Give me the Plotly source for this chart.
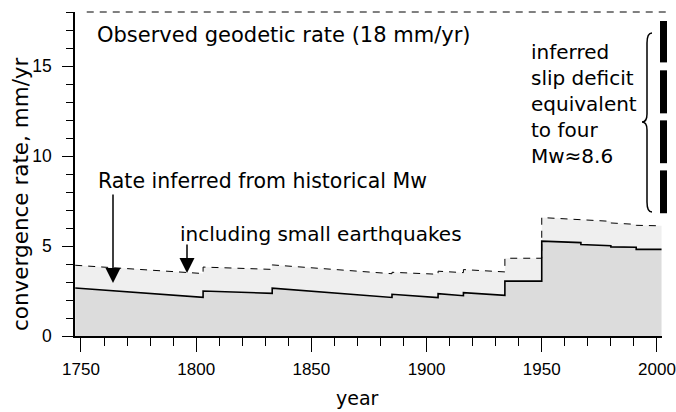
import plotly.graph_objects as go

# ---- data ----
years_mw = [1747.5, 1803, 1803, 1833, 1833, 1885, 1885, 1905, 1905, 1916, 1916,
            1934, 1934, 1950, 1950, 1967, 1967, 1980, 1980, 1991, 1991, 2002]
rate_mw = [2.67, 2.15, 2.50, 2.37, 2.66, 2.14, 2.32, 2.13, 2.35, 2.24, 2.41,
           2.26, 3.05, 3.05, 5.27, 5.19, 5.08, 5.01, 4.95, 4.93, 4.81, 4.81]

years_all = [1747.5, 1803, 1803, 1833, 1833, 1885, 1885, 1905, 1905, 1916, 1916,
             1934, 1934, 1950, 1950, 1980, 1980, 1991, 1991, 2002]
rate_all = [3.93, 3.47, 3.83, 3.70, 3.95, 3.46, 3.54, 3.43, 3.60, 3.52, 3.69,
            3.56, 4.32, 4.32, 6.58, 6.37, 6.28, 6.20, 6.15, 6.12]

geodetic_rate = 18
deficit_segments = [(6.82, 9.2), (9.6, 11.98), (12.37, 14.76), (15.2, 17.5)]

x_ticks = [1750, 1800, 1850, 1900, 1950, 2000]
y_ticks = [0, 5, 10, 15]

FONT = "DejaVu Sans"
TICKFONT = "Liberation Sans"
W, H = 676, 412
ML, MR, MT, MB = 75, 14, 12, 76
XR = [1747.4, 2002.2]
YR = [0, 18]

fig = go.Figure()
fig.add_trace(go.Scatter(x=years_mw, y=rate_mw, mode="lines",
                         line=dict(color="black", width=1.6),
                         fill="tozeroy", fillcolor="#dcdcdc", showlegend=False,
                         hoverinfo="skip"))
fig.add_trace(go.Scatter(x=years_all, y=rate_all, mode="lines",
                         line=dict(color="black", width=1, dash="7px,6px"),
                         fill="tonexty", fillcolor="#efefef", showlegend=False,
                         hoverinfo="skip"))

shapes = []
# observed geodetic rate dashed line
shapes.append(dict(type="line", xref="paper", yref="y domain", x0=0.02, x1=1.013,
                   y0=geodetic_rate / YR[1], y1=geodetic_rate / YR[1],
                   line=dict(color="black", width=1, dash="7px,6px")))
# slip deficit bars
for lo, hi in deficit_segments:
    shapes.append(dict(type="rect", xref="paper", yref="y domain",
                       x0=0.9966, x1=1.0085, y0=lo / YR[1], y1=hi / YR[1],
                       fillcolor="black", line=dict(width=0)))


def px2x(p):
    return XR[0] + (p - ML) / (W - ML - MR) * (XR[1] - XR[0])


def py2y(p):
    return YR[1] - (p - MT) / (H - MT - MB) * (YR[1] - YR[0])


# curly brace
pts = [(652, 33), (647, 33), (647, 43), (647, 114), (647, 122), (642, 122),
       (647, 122), (647, 130), (647, 202), (647, 212), (652, 212)]
P = [(px2x(a), py2y(b)) for a, b in pts]
path = (f"M{P[0][0]},{P[0][1]} Q{P[1][0]},{P[1][1]} {P[2][0]},{P[2][1]} "
        f"L{P[3][0]},{P[3][1]} Q{P[4][0]},{P[4][1]} {P[5][0]},{P[5][1]} "
        f"Q{P[6][0]},{P[6][1]} {P[7][0]},{P[7][1]} L{P[8][0]},{P[8][1]} "
        f"Q{P[9][0]},{P[9][1]} {P[10][0]},{P[10][1]}")
shapes.append(dict(type="path", xref="x", yref="y", path=path,
                   line=dict(color="black", width=1.5)))


def tf(s):
    return dict(family=FONT, size=s, color="black")


ann = [
    dict(text="Observed geodetic rate (18 mm/yr)", x=px2x(95), y=py2y(35),
         xanchor="left", yanchor="middle", showarrow=False, font=tf(21)),
    dict(text="Rate inferred from historical Mw", x=px2x(96), y=py2y(181),
         xanchor="left", yanchor="middle", showarrow=False, font=tf(20.5)),
    dict(text="including small earthquakes", x=px2x(178), y=py2y(234),
         xanchor="left", yanchor="middle", showarrow=False, font=tf(20)),
    dict(text="inferred<br>slip deficit<br>equivalent<br>to four<br>Mw≈8.6",
         x=px2x(529), y=py2y(104), xanchor="left", yanchor="middle",
         align="left", showarrow=False, font=tf(20)),
    dict(text="", x=px2x(113), y=py2y(283), ax=0, ay=-90, showarrow=True,
         arrowhead=2, arrowsize=2, arrowwidth=1.5, arrowcolor="black"),
    dict(text="", x=px2x(187), y=py2y(273), ax=0, ay=-30, showarrow=True,
         arrowhead=2, arrowsize=2, arrowwidth=1.5, arrowcolor="black"),
    dict(text="convergence rate, mm/yr", xref="paper", yref="paper",
         x=(20 - ML) / (W - ML - MR), y=(H - MB - 194) / (H - MT - MB),
         textangle=-90, showarrow=False, xanchor="center", yanchor="middle",
         font=tf(21.5)),
    dict(text="year", xref="paper", yref="paper",
         x=(357 - ML) / (W - ML - MR), y=(H - MB - 398) / (H - MT - MB),
         showarrow=False, xanchor="center", yanchor="middle",
         font=tf(19)),
]

fig.update_layout(
    width=W, height=H, margin=dict(l=ML, r=MR, t=MT, b=MB, autoexpand=False),
    paper_bgcolor="white", plot_bgcolor="white",
    shapes=shapes, annotations=ann, hovermode=False,
    xaxis=dict(range=XR, tickvals=x_ticks, ticks="outside", ticklen=14,
               tickwidth=1.3, tickcolor="black", showline=True, linecolor="black",
               linewidth=1.5, showgrid=False, zeroline=False, automargin=False,
               ticklabeloverflow="allow", ticklabelstandoff=3,
               tickfont=dict(family=TICKFONT, size=17, color="black"),
               minor=dict(dtick=10, tick0=1750, ticks="outside", ticklen=8,
                          tickwidth=1.3, tickcolor="black", showgrid=False)),
    yaxis=dict(range=YR, tickvals=y_ticks, ticks="outside", ticklen=11,
               tickwidth=1.3, tickcolor="black", showline=True, linecolor="black",
               linewidth=1.5, showgrid=False, zeroline=False, automargin=False,
               ticklabeloverflow="allow", ticklabelstandoff=7,
               tickfont=dict(family=TICKFONT, size=17.5, color="black"),
               minor=dict(dtick=1, tick0=0, ticks="outside", ticklen=7,
                          tickwidth=1.3, tickcolor="black", showgrid=False)),
)

fig.write_html("out.html", config={"displayModeBar": False},
               post_script="document.body.style.margin='0px';")
